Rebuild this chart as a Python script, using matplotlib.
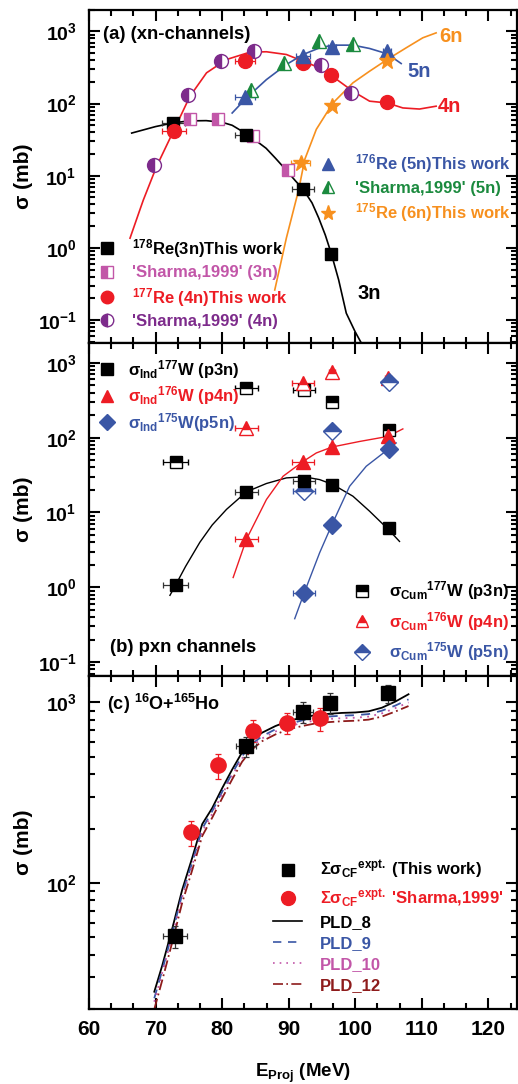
import matplotlib
matplotlib.use("Agg")
import matplotlib.pyplot as plt
from matplotlib.lines import Line2D
from matplotlib.ticker import LogLocator, MultipleLocator, NullFormatter

plt.rcParams['font.family'] = ['Liberation Sans', 'DejaVu Sans']
plt.rcParams['font.weight'] = 'bold'
plt.rcParams['axes.labelweight'] = 'bold'
plt.rcParams['mathtext.fontset'] = 'custom'
plt.rcParams['mathtext.rm'] = 'Liberation Sans:bold'
plt.rcParams['mathtext.it'] = 'Liberation Sans:bold'
plt.rcParams['mathtext.bf'] = 'Liberation Sans:bold'
plt.rcParams['mathtext.sf'] = 'Liberation Sans:bold'
plt.rcParams['mathtext.default'] = 'bf'

RED = '#ed1c24'
BLUE = '#3a56a5'
GREEN = '#1b8a3e'
ORANGE = '#f7901e'
MAGENTA = '#c256a8'
PURPLE = '#7d2b8b'
DKRED = '#8e1b1b'

# ---------------- panel (a): xn channels ----------------
e_3n = [72.65, 83.65, 92.15, 96.4]
s_3n = [54, 37, 6.5, 0.83]
xe_3n = [1.75, 1.75, 1.6, 0.4]
e_3n_sh = [75.15, 79.4, 84.65, 89.9]
s_3n_sh = [62, 62, 35, 11.9]

e_4n = [72.75, 83.5, 92.15, 96.4, 104.8]
s_4n = [42, 395, 367, 247, 104]
xe_4n = [1.75, 1.5, 1.0, 0.5, 0.5]
e_4n_sh = [69.75, 74.9, 79.8, 84.75, 94.8, 99.4]
s_4n_sh = [13.9, 133, 395, 533, 348, 141]

e_5n = [83.5, 92.15, 96.5, 104.8]
s_5n = [124, 464, 605, 533]
xe_5n = [1.5, 1.0, 0.6, 0.6]
e_5n_sh = [84.4, 89.3, 94.5, 99.65]
s_5n_sh = [153, 367, 734, 674]

e_6n = [91.8, 96.5, 104.8]
s_6n = [15, 94, 387]
xe_6n = [1.4, 0.6, 0.6]

# fitted curves
fit3n_e = [66.4, 70, 72.65, 75, 77.6, 80, 81.5, 83.65, 85, 86.6, 88, 89.6, 91, 92.15, 93.5, 94.5, 95.5, 96.4, 97.5, 98.65, 100, 100.9]
fit3n_s = [39, 48, 54, 57.5, 58, 55, 50, 38, 31, 24, 17.5, 12, 8.5, 6.5, 4.2, 2.6, 1.5, 0.83, 0.36, 0.124, 0.068, 0.048]
fit4n_e = [66.15, 67.65, 68.15, 70.15, 72.65, 75.15, 77.65, 80.65, 84.15, 86.65, 89.65, 92.15, 94.65, 96.4, 99.65, 102.15, 104.8, 107.15, 109.65, 112.15]
fit4n_s = [1.36, 3.4, 4.6, 13.5, 41, 126, 267, 408, 516, 523, 479, 387, 313, 245, 148, 108, 102, 87, 84, 92]
fit5n_e = [81.5, 83.65, 86.65, 89.65, 92.15, 94.65, 96.65, 99.65, 102.15, 104.8, 106.9]
fit5n_s = [74, 120, 215, 348, 479, 593, 646, 646, 581, 490, 359]
fit6n_e = [87.9, 89.65, 91.5, 92.4, 94.15, 96.65, 99.65, 102.15, 104.8, 107.65, 110.15, 112.15]
fit6n_s = [0.26, 1.37, 6.4, 16.7, 44, 102, 194, 281, 408, 593, 817, 956]

# ---------------- panel (b): pxn channels ----------------
e_b = [73.0, 83.65, 92.3, 96.5, 105.0]
xe_b = [1.9, 1.7, 1.6, 0.4, 0.4]
ind_p3n = [1.07, 18.9, 26, 23, 6.25]
cum_p3n = [48, 459, 437, 299, 128]
e_p4n = [83.65, 92.15, 96.5, 104.9]
xe_p4n = [1.7, 1.6, 0.4, 0.4]
ind_p4n = [4.4, 48, 75, 105]
cum_p4n = [135, 536, 766, 625]
e_p5n = [92.3, 96.5, 105.0]
xe_p5n = [1.6, 0.4, 0.4]
ind_p5n = [0.83, 6.9, 70.6]
cum_p5n = [19.2, 124, 563]

fitp3n_e = [72.15, 73, 74.5, 76.65, 78.5, 80.65, 83.65, 86.65, 89.65, 92.3, 94.65, 96.65, 99.65, 102.15, 105, 106.65]
fitp3n_s = [0.78, 1.07, 1.9, 4.0, 6.8, 11, 18.9, 24.4, 29, 30, 27.5, 23.6, 16.5, 10.4, 5.9, 4.1]
fitp4n_e = [81.65, 83.65, 84.65, 86.65, 89.15, 92.15, 94.15, 96.5, 100.65, 104.9, 107.15]
fitp4n_s = [1.35, 4.4, 6.6, 14.9, 30.5, 48, 62.5, 75, 89, 104, 131]
fitp5n_e = [90.9, 92.3, 94.65, 96.5, 99.15, 101.65, 105.0, 106.15]
fitp5n_s = [0.38, 0.83, 2.9, 6.9, 22.4, 41.5, 70.6, 85]

# ---------------- panel (c): complete fusion ----------------
e_cf = [72.9, 83.65, 92.15, 96.15, 104.9]
s_cf = [50.8, 571, 887, 998, 1122]
xe_cf = [1.75, 1.5, 1.5, 0.5, 0.5]
ye_cf = [7, 70, 120, 130, 135]
e_cf_sh = [75.25, 79.4, 84.65, 89.75, 94.65]
s_cf_sh = [191, 449, 699, 771, 815]
ye_cf_sh = [30, 72, 98, 100, 120]

pld_e = [69.8, 71, 72.5, 74, 75.5, 77, 78.5, 80, 81.5, 83, 84.5, 86, 88, 90, 92, 94, 96, 98, 100, 102, 104, 106, 108]
pld8 = [25, 35, 56, 92, 138, 212, 260, 335, 425, 530, 620, 680, 740, 790, 825, 850, 865, 875, 880, 893, 935, 1010, 1110]
pld9 = [23, 33, 53, 87, 130, 200, 250, 320, 405, 505, 590, 650, 710, 760, 795, 820, 835, 845, 850, 862, 900, 960, 1040]
pld10 = [22, 32, 51, 84, 126, 193, 242, 310, 393, 490, 573, 632, 690, 738, 770, 795, 810, 818, 823, 835, 870, 930, 1000]
pld12 = [20, 29, 47, 78, 118, 182, 230, 295, 375, 470, 550, 610, 665, 710, 740, 765, 778, 787, 792, 803, 835, 890, 955]

fig = plt.figure(figsize=(5.18, 10.84), dpi=100)
gs = fig.add_gridspec(3, 1, left=0.172, right=0.998, bottom=0.069, top=0.991, hspace=0)
axes = [fig.add_subplot(gs[i]) for i in range(3)]
for ax in axes[1:]:
    ax.sharex(axes[0])


def style(ax, ylim):
    ax.set_yscale('log')
    ax.set_xlim(60, 124.3)
    ax.set_ylim(*ylim)
    ax.xaxis.set_major_locator(MultipleLocator(10))
    ax.xaxis.set_minor_locator(MultipleLocator(10 / 3))
    ax.yaxis.set_major_locator(LogLocator(base=10, numticks=10))
    ax.yaxis.set_minor_locator(LogLocator(base=10, subs=range(2, 10), numticks=20))
    ax.yaxis.set_minor_formatter(NullFormatter())
    ax.tick_params(which='both', direction='in', top=True, right=True, width=1.5)
    ax.tick_params(axis='y', labelsize=14, pad=9)
    ax.tick_params(axis='x', labelsize=15, pad=8)
    ax.tick_params(which='major', length=8)
    ax.tick_params(which='minor', length=4)
    for sp in ax.spines.values():
        sp.set_linewidth(1.6)
    ax.set_ylabel('σ (mb)', fontsize=15, fontweight='bold')
    ax.yaxis.set_label_coords(-0.131, 0.5)


eb = dict(ls='none', capsize=2.5, elinewidth=0.9, capthick=0.9, zorder=4)

# ---- (a)
ax = axes[0]
style(ax, (0.048, 2000))
ax.plot(fit3n_e, fit3n_s, color='k', lw=1.2, zorder=2)
ax.plot(fit4n_e, fit4n_s, color=RED, lw=1.2, zorder=2)
ax.plot(fit5n_e, fit5n_s, color=BLUE, lw=1.2, zorder=2)
ax.plot(fit6n_e, fit6n_s, color=ORANGE, lw=1.2, zorder=2)
ax.errorbar(e_3n_sh, s_3n_sh, marker='s', ms=9, color=MAGENTA, mfc=MAGENTA, mfcalt='white', fillstyle='left', mew=1, **eb)
ax.errorbar(e_4n_sh, s_4n_sh, marker='o', ms=10, color=PURPLE, mfc=PURPLE, mfcalt='white', fillstyle='left', mew=1, **eb)
ax.errorbar(e_5n_sh, s_5n_sh, marker='^', ms=10, color=GREEN, mfc=GREEN, mfcalt='white', fillstyle='left', mew=1, **eb)
ax.errorbar(e_3n, s_3n, xerr=xe_3n, marker='s', ms=9, color='k', ecolor='#333333', **eb)
ax.errorbar(e_4n, s_4n, xerr=xe_4n, marker='o', ms=10, color=RED, **eb)
ax.errorbar(e_5n, s_5n, xerr=xe_5n, marker='^', ms=10, color=BLUE, **eb)
ax.errorbar(e_6n, s_6n, xerr=xe_6n, marker='*', ms=12, color=ORANGE, **eb)
ax.text(0.033, 0.925, '(a) (xn-channels)', transform=ax.transAxes, fontsize=13.3, va='center')
ax.text(100.4, 0.235, '3n', fontsize=14.5, va='center')
ax.text(112.4, 92, '4n', fontsize=14.5, va='center', color=RED)
ax.text(107.9, 281, '5n', fontsize=14.5, va='center', color=BLUE)
ax.text(112.6, 860, '6n', fontsize=14.5, va='center', color=ORANGE)

h_left = [Line2D([], [], ls='none', marker='s', ms=8, color='k'),
          Line2D([], [], ls='none', marker='s', ms=8, color=MAGENTA, mfcalt='white', fillstyle='left'),
          Line2D([], [], ls='none', marker='o', ms=9, color=RED),
          Line2D([], [], ls='none', marker='o', ms=9, color=PURPLE, mfcalt='white', fillstyle='left')]
l_left = ['$^{178}$Re(3n)This work', "'Sharma,1999' (3n)", '$^{177}$Re (4n)This work', "'Sharma,1999' (4n)"]
leg = ax.legend(h_left, l_left, loc='upper left', bbox_to_anchor=(0.023, 0.318), frameon=False,
                fontsize=12, handlelength=1.0, handletextpad=1.0, labelspacing=0.33,
                borderpad=0, borderaxespad=0, labelcolor=['k', MAGENTA, RED, PURPLE])
ax.add_artist(leg)
h_right = [Line2D([], [], ls='none', marker='^', ms=9, color=BLUE),
           Line2D([], [], ls='none', marker='^', ms=9, color=GREEN, mfcalt='white', fillstyle='left'),
           Line2D([], [], ls='none', marker='*', ms=11, color=ORANGE)]
l_right = ['$^{176}$Re (5n)This work', "'Sharma,1999' (5n)", '$^{175}$Re (6n)This work']
ax.legend(h_right, l_right, loc='upper left', bbox_to_anchor=(0.539, 0.572), frameon=False,
          fontsize=12, handlelength=1.0, handletextpad=1.1, labelspacing=0.33,
          borderpad=0, borderaxespad=0, labelcolor=[BLUE, GREEN, ORANGE])

# ---- (b)
ax = axes[1]
style(ax, (0.065, 1850))
ax.plot(fitp3n_e, fitp3n_s, color='k', lw=1.0, zorder=2)
ax.plot(fitp4n_e, fitp4n_s, color=RED, lw=1.0, zorder=2)
ax.plot(fitp5n_e, fitp5n_s, color=BLUE, lw=1.0, zorder=2)
ax.errorbar(e_b, cum_p3n, xerr=xe_b, marker='s', ms=9, color='k', mfcalt='white', fillstyle='top', mew=1, **eb)
ax.errorbar(e_p4n, cum_p4n, xerr=xe_p4n, marker='^', ms=10, color=RED, mfcalt='white', fillstyle='top', mew=1, **eb)
ax.errorbar(e_p5n, cum_p5n, xerr=xe_p5n, marker='D', ms=9, color=BLUE, mfcalt='white', fillstyle='top', mew=1, **eb)
ax.errorbar(e_b, ind_p3n, xerr=xe_b, marker='s', ms=9, color='k', ecolor='#333333', **eb)
ax.errorbar(e_p4n, ind_p4n, xerr=xe_p4n, marker='^', ms=10, color=RED, **eb)
ax.errorbar(e_p5n, ind_p5n, xerr=xe_p5n, marker='D', ms=9, color=BLUE, **eb)
ax.text(0.049, 0.087, '(b) pxn channels', transform=ax.transAxes, fontsize=13.3, va='center')

h_ind = [Line2D([], [], ls='none', marker='s', ms=8, color='k'),
         Line2D([], [], ls='none', marker='^', ms=9, color=RED),
         Line2D([], [], ls='none', marker='D', ms=8, color=BLUE)]
l_ind = ['σ$_{\\rm Ind}$$^{177}$W (p3n)', 'σ$_{\\rm Ind}$$^{176}$W (p4n)', 'σ$_{\\rm Ind}$$^{175}$W(p5n)']
leg = ax.legend(h_ind, l_ind, loc='upper left', bbox_to_anchor=(0.023, 0.955), frameon=False,
                fontsize=12, handlelength=1.0, handletextpad=0.75, labelspacing=0.22,
                borderpad=0, borderaxespad=0, labelcolor=['k', RED, BLUE])
ax.add_artist(leg)
h_cum = [Line2D([], [], ls='none', marker='s', ms=8, color='k', mfcalt='white', fillstyle='top'),
         Line2D([], [], ls='none', marker='^', ms=9, color=RED, mfcalt='white', fillstyle='top'),
         Line2D([], [], ls='none', marker='D', ms=8, color=BLUE, mfcalt='white', fillstyle='top')]
l_cum = ['σ$_{\\rm Cum}$$^{177}$W (p3n)', 'σ$_{\\rm Cum}$$^{176}$W (p4n)', 'σ$_{\\rm Cum}$$^{175}$W (p5n)']
ax.legend(h_cum, l_cum, loc='upper left', bbox_to_anchor=(0.618, 0.29), frameon=False,
          fontsize=12, handlelength=1.0, handletextpad=1.1, labelspacing=0.45,
          borderpad=0, borderaxespad=0, labelcolor=['k', RED, BLUE])

# ---- (c)
ax = axes[2]
style(ax, (20, 1400))
ax.plot(pld_e, pld8, color='k', lw=1.3, ls='-', zorder=2)
ax.plot(pld_e, pld9, color=BLUE, lw=1.3, ls=(0, (5, 4)), zorder=2)
ax.plot(pld_e, pld10, color=MAGENTA, lw=1.3, ls=(0, (1, 3)), zorder=2)
ax.plot(pld_e, pld12, color=DKRED, lw=1.3, ls=(0, (6, 2, 1, 2)), zorder=2)
ax.errorbar(e_cf_sh, s_cf_sh, yerr=ye_cf_sh, marker='o', ms=11, color=RED, **eb)
ax.errorbar(e_cf, s_cf, xerr=xe_cf, yerr=ye_cf, marker='s', ms=10, color='k', ecolor='#333333', **eb)
ax.text(0.042, 0.916, '(c) $^{16}$O+$^{165}$Ho', transform=ax.transAxes, fontsize=13, va='center')
ax.set_xlabel('E$_{\\rm Proj}$ (MeV)', fontsize=13.5, fontweight='bold', labelpad=16)

h_c = [Line2D([], [], ls='none', marker='s', ms=8, color='k'),
       Line2D([], [], ls='none', marker='o', ms=10, color=RED),
       Line2D([], [], color='k', lw=1.2),
       Line2D([], [], color=BLUE, lw=1.2, ls=(0, (5, 4))),
       Line2D([], [], color=MAGENTA, lw=1.2, ls=(0, (1, 3))),
       Line2D([], [], color=DKRED, lw=1.2, ls=(0, (6, 2, 1, 2)))]
l_c = ['Σσ$_{\\rm CF}$$^{\\rm expt.}$ (This work)', "Σσ$_{\\rm CF}$$^{\\rm expt.}$ 'Sharma,1999'",
       'PLD_8', 'PLD_9', 'PLD_10', 'PLD_12']
ax.legend(h_c, l_c, loc='upper left', bbox_to_anchor=(0.43, 0.452), frameon=False,
          fontsize=12, handlelength=1.75, handletextpad=1.05, labelspacing=0.36,
          borderpad=0, borderaxespad=0, labelcolor=['k', RED, 'k', BLUE, MAGENTA, DKRED])

for ax in axes[:2]:
    ax.tick_params(labelbottom=False)

fig.savefig('out.png', dpi=100)
